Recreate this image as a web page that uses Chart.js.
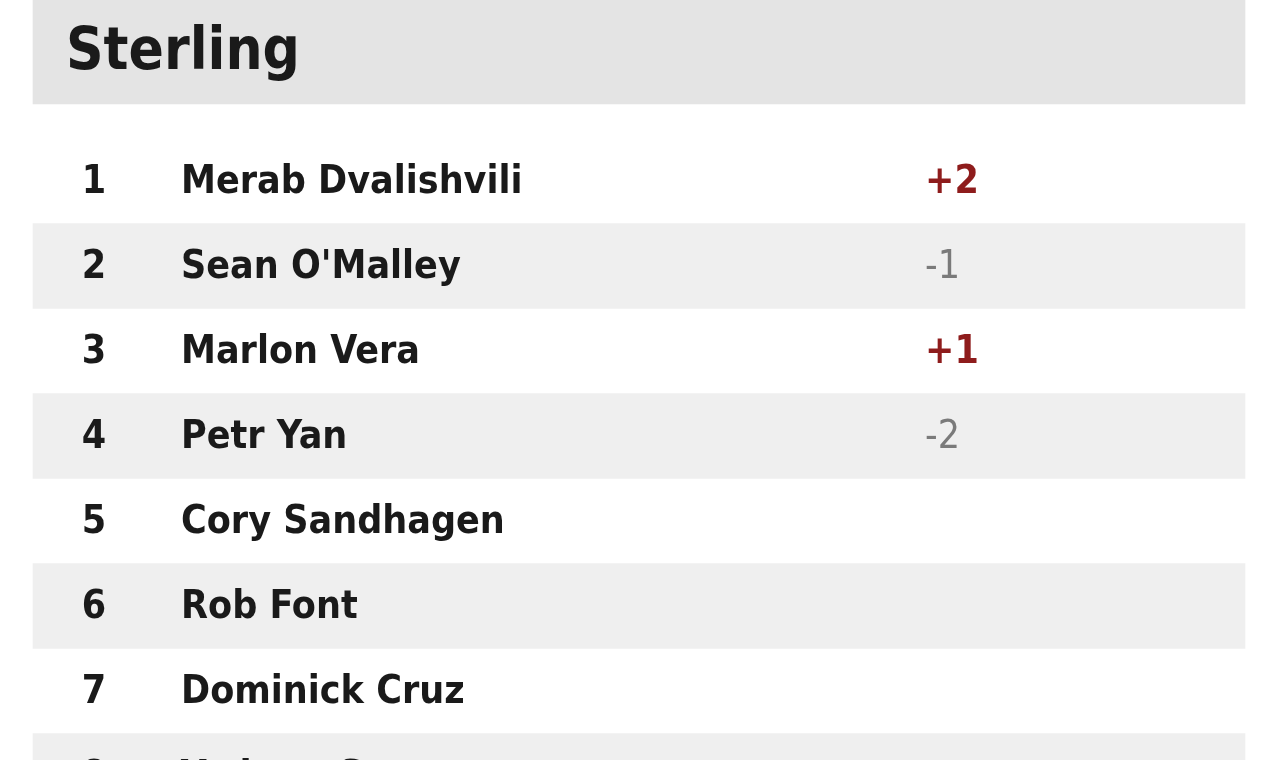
<!DOCTYPE html>
<html>
<head>
<meta charset="utf-8">
<script src="https://cdn.jsdelivr.net/npm/chart.js@4"></script>
<style>
  html, body { margin: 0; padding: 0; background: #fff; }
  #wrap { width: 1278px; height: 760px; position: relative; }
</style>
</head>
<body>
<div id="wrap"><canvas id="c"></canvas></div>
<script>
const TITLE = 'Sterling';
const RANKS = [1, 2, 3, 4, 5, 6, 7, 8];
const NAMES = ['Merab Dvalishvili', "Sean O'Malley", 'Marlon Vera', 'Petr Yan', 'Cory Sandhagen', 'Rob Font', 'Dominick Cruz', 'Yadong Song'];
const CHANGES = ['+2', '-1', '+1', '-2', '', '', '', ''];

const FONT = "'DejaVu Sans Condensed', 'DejaVu Sans'";
const RED = '#8e1c1c';
const GREY = '#7a7a7a';

// stripe rows: even ranks get a light grey band
const stripes = RANKS.filter(r => r % 2 === 0).map(r => ({ x: [33, 1245], y: r }));

const textPlugin = {
    id: 'rowText',
    afterDatasetsDraw(chart) {
        const { ctx, scales } = chart;
        ctx.save();
        ctx.textBaseline = 'middle';
        // header title
        ctx.fillStyle = '#1a1a1a';
        ctx.font = `bold 58px ${FONT}`;
        ctx.fillText(TITLE, scales.x.getPixelForValue(66), scales.y.getPixelForValue(-0.5));
        ctx.font = `bold 39px ${FONT}`;
        RANKS.forEach((r, i) => {
            const y = scales.y.getPixelForValue(r) + 2;
            ctx.fillStyle = '#1a1a1a';
            ctx.textAlign = 'center';
            ctx.fillText(String(r), scales.x.getPixelForValue(94), y);
            ctx.textAlign = 'left';
            ctx.fillText(NAMES[i], scales.x.getPixelForValue(181), y);
            const ch = CHANGES[i];
            if (ch) {
                ctx.fillStyle = ch.startsWith('+') ? RED : GREY;
                ctx.font = ch.startsWith('+') ? `bold 39px ${FONT}` : `39px ${FONT}`;
                ctx.fillText(ch, scales.x.getPixelForValue(925), y);
                ctx.font = `bold 39px ${FONT}`;
            }
        });
        ctx.restore();
    }
};

new Chart(document.getElementById('c'), {
    type: 'bar',
    plugins: [textPlugin],
    data: {
        datasets: [
            {
                data: [{ x: [33, 1245], y: -0.52 }],
                backgroundColor: '#e4e4e4',
                barThickness: 104,
                grouped: false
            },
            {
                data: stripes,
                backgroundColor: '#efefef',
                barThickness: 85,
                grouped: false
            }
        ]
    },
    options: {
        indexAxis: 'y',
        responsive: true,
        maintainAspectRatio: false,
        animation: false,
        layout: { padding: 0 },
        plugins: { legend: { display: false }, tooltip: { enabled: false } },
        scales: {
            x: { type: 'linear', min: 0, max: 1278, display: false },
            y: { type: 'linear', min: -1.1294, max: 7.8118, reverse: true, offset: false, display: false }
        }
    }
});
</script>
</body>
</html>
